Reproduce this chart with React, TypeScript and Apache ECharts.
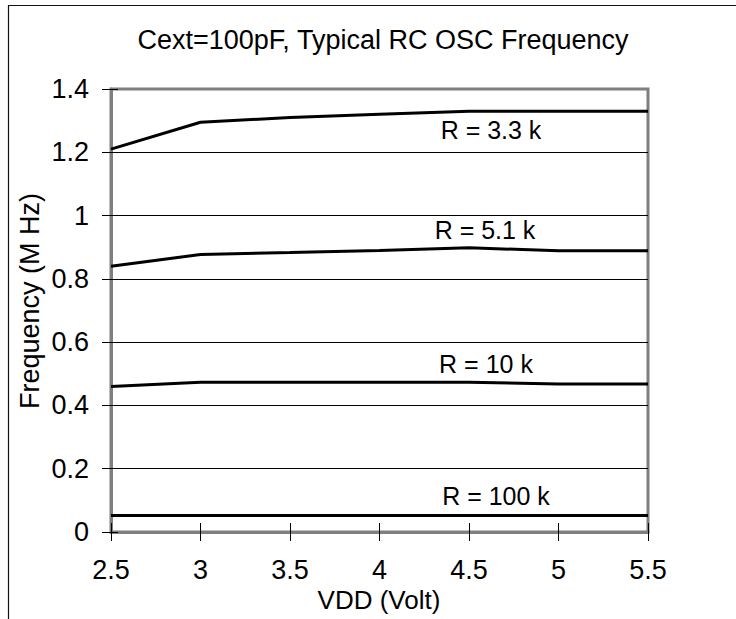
import React, { useEffect, useRef } from "react";
import * as echarts from "echarts";

const vdd = [2.5, 3, 3.5, 4, 4.5, 5, 5.5];
const r33k = [1.21, 1.295, 1.31, 1.32, 1.33, 1.33, 1.33];
const r51k = [0.84, 0.877, 0.883, 0.89, 0.898, 0.889, 0.889];
const r10k = [0.46, 0.473, 0.473, 0.473, 0.473, 0.468, 0.468];
const r100k = [0.052, 0.052, 0.052, 0.052, 0.052, 0.052, 0.052];
const seriesNames = ["R = 3.3 k", "R = 5.1 k", "R = 10 k", "R = 100 k"];
const titleText = "Cext=100pF, Typical RC OSC Frequency";
const xName = "VDD (Volt)";
const yName = "Frequency (M Hz)";

const FONT = "'Liberation Sans', Arial, sans-serif";

export default function App() {
  const ref = useRef<HTMLDivElement>(null);
  useEffect(() => {
    const chart = echarts.init(ref.current!, null, { renderer: "svg" });
    const pair = (ys: number[]) => vdd.map((x, i) => [x, ys[i]]);
    const lineSeries = (name: string, ys: number[]) => ({
      name,
      type: "line",
      data: pair(ys),
      showSymbol: false,
      symbol: "none",
      lineStyle: { color: "#000", width: 3 },
      z: 5,
    });
    const labelPos: [number, number][] = [
      [491, 130],
      [485, 230],
      [486, 364],
      [496, 496],
    ];
    chart.setOption({
      animation: false,
      backgroundColor: "#fff",
      grid: {
        left: 111,
        right: 88,
        top: 89,
        bottom: 87,
        show: true,
        borderColor: "#7f7f7f",
        borderWidth: 3,
        backgroundColor: "transparent",
      },
      xAxis: [
        {
          type: "value",
          min: 2.5,
          max: 5.5,
          interval: 0.5,
          axisLine: { show: true, lineStyle: { color: "#7f7f7f", width: 3 } },
          axisTick: { show: true, inside: false, length: 9, lineStyle: { color: "#000", width: 1 } },
          axisLabel: { color: "#000", fontSize: 27, lineHeight: 20, fontFamily: FONT, margin: 28 },
          splitLine: { show: false },
        },
        {
          type: "value",
          position: "bottom",
          min: 2.5,
          max: 5.5,
          interval: 0.5,
          axisLine: { show: false },
          axisTick: { show: true, inside: true, length: 9, lineStyle: { color: "#000", width: 1 } },
          axisLabel: { show: false },
          splitLine: { show: false },
        },
      ],
      yAxis: [
        {
          type: "value",
          min: 0,
          max: 1.4,
          interval: 0.2,
          axisLine: { show: true, lineStyle: { color: "#7f7f7f", width: 3 } },
          axisTick: { show: true, inside: false, length: 9, lineStyle: { color: "#000", width: 1 } },
          axisLabel: {
            color: "#000",
            fontSize: 27,
            fontFamily: FONT,
            margin: 22,
            formatter: (v: number) => String(Math.round(v * 10) / 10),
          },
          splitLine: {
            show: true,
            showMinLine: false,
            showMaxLine: false,
            lineStyle: { color: "#000", width: 1 },
          },
        },
        {
          type: "value",
          position: "left",
          min: 0,
          max: 1.4,
          interval: 0.2,
          axisLine: { show: false },
          axisTick: { show: true, inside: true, length: 7, lineStyle: { color: "#000", width: 1 } },
          axisLabel: { show: false },
          splitLine: { show: false },
        },
      ],
      series: [
        lineSeries(seriesNames[0], r33k),
        lineSeries(seriesNames[1], r51k),
        lineSeries(seriesNames[2], r10k),
        lineSeries(seriesNames[3], r100k),
      ],
      graphic: [
        {
          type: "rect",
          shape: { x: 8.5, y: 5.5, width: 900, height: 900 },
          style: { fill: "none", stroke: "#111", lineWidth: 1.2 },
          silent: true,
          z: 0,
        },
        {
          type: "text",
          x: 383,
          y: 40,
          style: {
            text: titleText,
            fontSize: 27,
            fontFamily: FONT,
            fill: "#000",
            align: "center",
            verticalAlign: "middle",
          },
        },
        {
          type: "text",
          x: 379,
          y: 600,
          style: {
            text: xName,
            fontSize: 26,
            lineHeight: 20,
            fontFamily: FONT,
            fill: "#000",
            align: "center",
            verticalAlign: "middle",
          },
        },
        {
          type: "text",
          x: 29.5,
          y: 301,
          rotation: Math.PI / 2,
          style: {
            text: yName,
            fontSize: 27,
            fontFamily: FONT,
            fill: "#000",
            align: "center",
            verticalAlign: "middle",
          },
        },
        ...seriesNames.map((n, i) => ({
          type: "text",
          x: labelPos[i][0],
          y: labelPos[i][1],
          style: {
            text: n,
            fontSize: 25,
            fontFamily: FONT,
            fill: "#000",
            align: "center",
            verticalAlign: "middle",
          },
        })),
      ],
    });
    return () => chart.dispose();
  }, []);
  return (
    <div
      ref={ref}
      style={{ position: "fixed", left: 0, top: 0, width: 736, height: 619 }}
    />
  );
}
